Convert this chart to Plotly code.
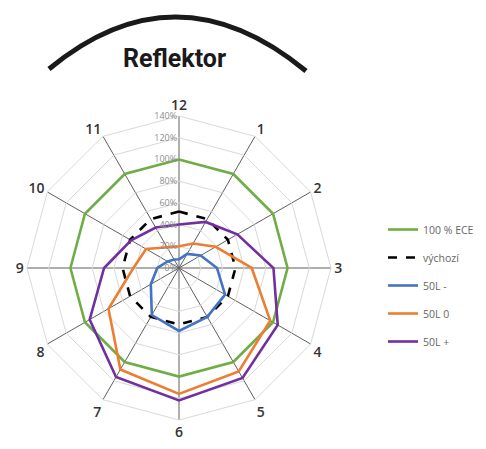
import plotly.graph_objects as go

# Clock positions around the headlamp, clockwise from the top
positions = ["12", "1", "2", "3", "4", "5", "6", "7", "8", "9", "10", "11"]

# Relative values in percent
ece_100 = [100, 100, 100, 100, 100, 100, 100, 100, 100, 100, 100, 100]
vychozi = [52, 52, 52, 52, 52, 52, 52, 52, 52, 52, 52, 52]
l50_minus = [8, 15, 23, 35, 49, 52, 58, 50, 30, 20, 12, 9]
l50_zero = [20, 26, 39, 67, 97, 110, 116, 108, 75, 42, 35, 22]
l50_plus = [40, 49, 62, 87, 105, 117, 122, 116, 95, 69, 51, 43]

radial_ticks = [0, 20, 40, 60, 80, 100, 120, 140]
radial_labels = [f"{v}%" for v in radial_ticks]

W, H = 486, 449


def px(x, y):
    """Pixel position -> paper coordinates."""
    return x / W, 1 - y / H


series = [
    ("100 % ECE", ece_100, "#70ad47", "solid"),
    ("výchozí", vychozi, "#000000", "dash"),
    ("50L -", l50_minus, "#4472c4", "solid"),
    ("50L 0", l50_zero, "#ed7d31", "solid"),
    ("50L +", l50_plus, "#7030a0", "solid"),
]

fig = go.Figure()
for i, (name, vals, color, dash) in enumerate(series):
    fig.add_trace(go.Scatterpolar(
        r=vals + vals[:1],
        theta=positions + positions[:1],
        mode="lines",
        name=name,
        legendgroup=f"g{i}",
        line=dict(color=color, width=2.6, dash=dash),
        hoverinfo="skip",
    ))

cx, cy, rad = 179, 268, 152
fig.update_layout(
    width=W, height=H,
    margin=dict(l=0, r=0, t=0, b=0),
    paper_bgcolor="white",
    font=dict(family="Open Sans, sans-serif"),
    polar=dict(
        domain=dict(x=[(cx - rad) / W, (cx + rad) / W],
                    y=[(H - cy - rad) / H, (H - cy + rad) / H]),
        bgcolor="white",
        gridshape="linear",
        angularaxis=dict(
            type="category",
            categoryarray=positions,
            rotation=90,
            direction="clockwise",
            showline=True,
            linecolor="#d9d9d9",
            linewidth=1,
            gridcolor="#5f5f5f",
            gridwidth=1.3,
            ticks="",
            tickfont=dict(size=14, color="#333333", family="Open Sans, sans-serif",
                          weight=600),
        ),
        radialaxis=dict(
            range=[0, 140],
            tickmode="array",
            tickvals=radial_ticks,
            ticktext=radial_labels,
            angle=90,
            tickangle=90,
            side="counterclockwise",
            showline=False,
            ticks="",
            gridcolor="#d9d9d9",
            gridwidth=1,
            tickfont=dict(size=9, color="#8c8c8c"),
        ),
    ),
    showlegend=True,
    legend=dict(
        x=383 / W, y=1 - 215 / H,
        xanchor="left", yanchor="top",
        traceorder="grouped",
        tracegroupgap=9,
        font=dict(size=10.5, color="#666666"),
        bgcolor="rgba(0,0,0,0)",
    ),
)

# Title above the chart
tx, ty = px(174, 58)
fig.add_annotation(
    text="<b>Reflektor</b>", x=tx, y=ty, xref="paper", yref="paper",
    xanchor="center", yanchor="middle",
    showarrow=False, font=dict(size=25, color="#1a1a1a", family="Roboto, sans-serif"),
)

# Arc symbolising the reflector
p0 = px(49, 69)
c0 = px(176, -36)
p1 = px(306, 71)
fig.add_shape(
    type="path", xref="paper", yref="paper",
    path=f"M {p0[0]},{p0[1]} Q {c0[0]},{c0[1]} {p1[0]},{p1[1]}",
    line=dict(color="#1a1a1a", width=5),
)

fig.write_html("out.html")
